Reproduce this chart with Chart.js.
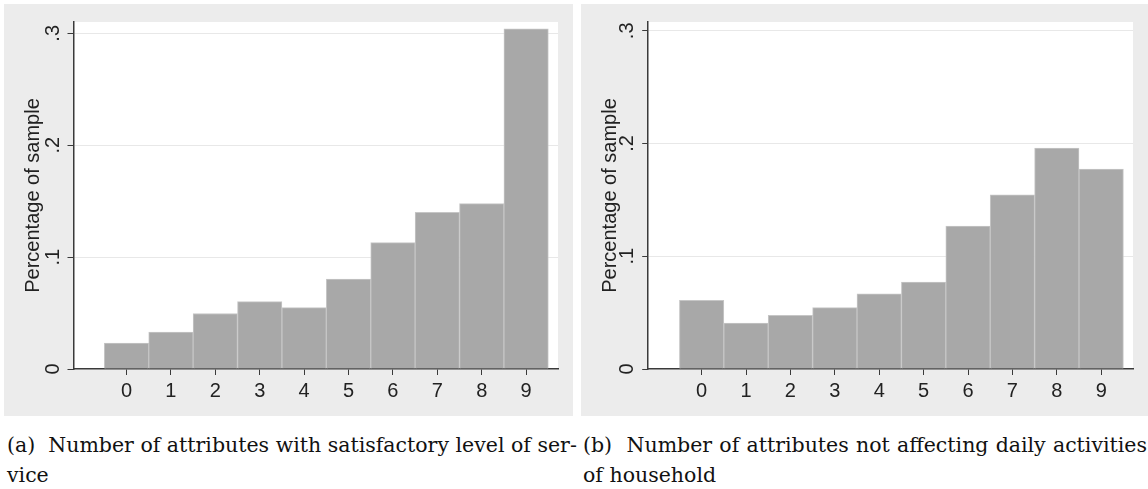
<!DOCTYPE html>
<html>
<head>
<meta charset="utf-8">
<script src="https://cdn.jsdelivr.net/npm/chart.js@4.4.1/dist/chart.umd.min.js"></script>
<style>
  html, body { margin: 0; padding: 0; background: #fff; }
  body { width: 1148px; height: 489px; position: relative; overflow: hidden; }
  .panel { position: absolute; top: 4px; height: 412px; background: #ececec; }
  .cap { position: absolute; top: 430px; font-family: "DejaVu Serif", serif; font-size: 20.5px;
         line-height: 30px; color: #111; white-space: nowrap; }
  .cap .l1 { display: block; text-align: justify; text-align-last: justify; }
</style>
</head>
<body>
<div class="panel" style="left:4px;width:569px"><canvas id="chartA" width="569" height="412"></canvas></div>
<div class="panel" style="left:581px;width:567px"><canvas id="chartB" width="567" height="412"></canvas></div>
<div class="cap" style="left:7px;width:562px"><span class="l1">(a)&nbsp; Number of attributes with satisfactory level of ser-</span>vice</div>
<div class="cap" style="left:583px;width:564px"><span class="l1">(b)&nbsp; Number of attributes not affecting daily activities</span>of household</div>
<script>
// number of attributes (0-9)
const categories = [0, 1, 2, 3, 4, 5, 6, 7, 8, 9];
// share of sample, panel (a)
const satisfactoryShare = [0.0232, 0.0330, 0.0496, 0.0602, 0.0549, 0.0804, 0.1130, 0.1400, 0.1478, 0.3040];
// share of sample, panel (b)
const notAffectingShare = [0.0610, 0.0408, 0.0475, 0.0545, 0.0666, 0.0771, 0.1267, 0.1545, 0.1960, 0.1774];
const yTickValues = [0, 0.1, 0.2, 0.3];
const yTickLabels = ['0', '.1', '.2', '.3'];

Chart.defaults.font.family = 'Liberation Sans, Arial, sans-serif';
Chart.defaults.color = '#222';

const plotBg = {
    id: 'plotBg',
    beforeDraw: function (chart) {
        const a = chart.chartArea;
        const ctx = chart.ctx;
        ctx.save();
        ctx.fillStyle = '#ffffff';
        ctx.fillRect(a.left, a.top, a.right - a.left, a.bottom - a.top);
        ctx.restore();
    }
};

function makeChart(id, values, o) {
    return new Chart(document.getElementById(id), {
        type: 'bar',
        data: {
            datasets: [{
                data: categories.map(function (c, i) { return {x: c, y: values[i]}; }),
                backgroundColor: '#a8a8a8',
                borderColor: '#c6c6c6',
                borderWidth: 1,
                barPercentage: 1,
                categoryPercentage: 1
            }]
        },
        options: {
            responsive: false,
            animation: false,
            layout: { padding: { top: o.padTop, right: 15, left: 0, bottom: 0 } },
            plugins: { legend: { display: false }, tooltip: { enabled: false } },
            scales: {
                x: {
                    type: 'linear',
                    offset: false,
                    min: o.xMin,
                    max: o.xMax,
                    afterBuildTicks: function (s) { s.ticks = categories.map(function (v) { return {value: v}; }); },
                    afterFit: function (s) { s.height = 47; },
                    grid: { drawOnChartArea: false, offset: false, tickLength: 6, tickColor: '#3a3a3a', tickWidth: 1 },
                    border: { color: '#3a3a3a', width: 1.5 },
                    ticks: { padding: 4, font: { size: 20 }, maxRotation: 0, autoSkip: false,
                             callback: function (v) { return String(v); } }
                },
                y: {
                    min: 0,
                    max: o.yMax,
                    afterBuildTicks: function (s) { s.ticks = yTickValues.map(function (v) { return {value: v}; }); },
                    afterFit: function (s) { s.width = o.yWidth; },
                    grid: {
                        color: function (c) { return c.tick && c.tick.value === 0 ? 'rgba(0,0,0,0)' : '#e8e8e8'; },
                        tickLength: 6, tickColor: '#3a3a3a', lineWidth: 1
                    },
                    border: { color: '#3a3a3a', width: 1.5 },
                    title: { display: true, text: 'Percentage of sample', font: { size: 20 }, padding: { top: 17, bottom: 0 }, color: '#222' },
                    ticks: {
                        minRotation: 90, maxRotation: 90, crossAlign: 'center', padding: 6,
                        font: { size: 20 }, autoSkip: false,
                        callback: function (v) { return yTickLabels[yTickValues.indexOf(v)]; }
                    }
                }
            }
        },
        plugins: [plotBg]
    });
}

makeChart('chartA', satisfactoryShare, { padTop: 15.5, yWidth: 69.5, xMin: -1.194, xMax: 9.718, yMax: 0.3101 });
makeChart('chartB', notAffectingShare, { padTop: 15.3, yWidth: 67.2, xMin: -1.203, xMax: 9.716, yMax: 0.3078 });
</script>
</body>
</html>
